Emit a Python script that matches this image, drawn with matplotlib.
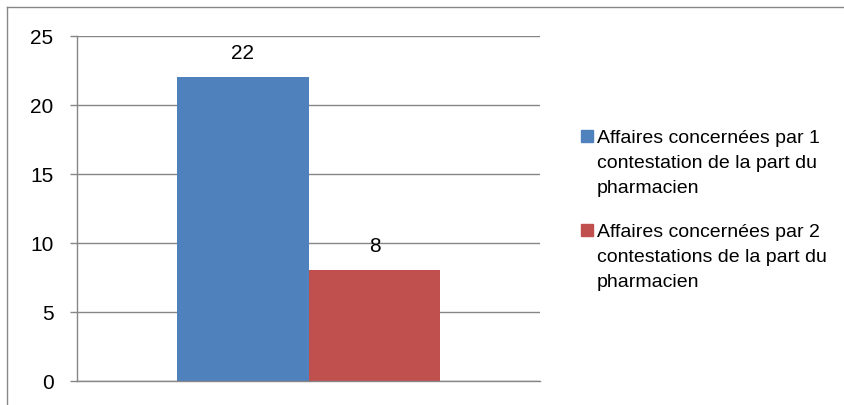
import matplotlib
matplotlib.use("Agg")
import matplotlib.pyplot as plt
from matplotlib.patches import Rectangle
from matplotlib.lines import Line2D

plt.rcParams['font.family'] = ['Liberation Sans', 'DejaVu Sans']

# data
series_labels = ["Affaires concernées par 1\ncontestation de la part du\npharmacien",
                 "Affaires concernées par 2\ncontestations de la part du\npharmacien"]
series_values = [22, 8]
series_colors = ["#4F81BD", "#C0504D"]
y_ticks = [0, 5, 10, 15, 20, 25]

W, H = 845, 406
fig = plt.figure(figsize=(W / 100, H / 100), dpi=100)

# outer chart border (top and left edges visible)
grey = "#888888"
fig.add_artist(Line2D([7 / W, 1], [1 - 7.5 / H, 1 - 7.5 / H], color=grey, lw=1.0, transform=fig.transFigure))
fig.add_artist(Line2D([7.5 / W, 7.5 / W], [0, 1 - 7.5 / H], color=grey, lw=1.0, transform=fig.transFigure))

ax = fig.add_axes([77 / W, (H - 381.5) / H, 463 / W, 344.5 / H])

bar_w = 0.285
offsets = [-bar_w / 2, bar_w / 2]
for off, val, col in zip(offsets, series_values, series_colors):
    ax.bar(off, val, width=bar_w, color=col, zorder=2)
    ax.annotate(str(val), (off, val), xytext=(0, 14), textcoords="offset points",
                ha="center", va="baseline", fontsize=15, zorder=3)

ax.set_xlim(-0.5, 0.5)
ax.set_ylim(0, 25)
ax.set_yticks(y_ticks)
ax.set_yticklabels([str(t) for t in y_ticks], fontsize=15)
ax.set_xticks([])
ax.yaxis.grid(True, color="#868686", lw=1.0, zorder=0)
ax.set_axisbelow(True)
ax.tick_params(axis="y", length=5, color="#868686", pad=12, width=1.0)
for s in ["top", "right"]:
    ax.spines[s].set_visible(False)
ax.spines["left"].set_color("#868686")
ax.spines["bottom"].set_color("#868686")
ax.spines["left"].set_linewidth(1.0)
ax.spines["bottom"].set_linewidth(1.0)

# legend drawn at right
first_baselines = [143, 237]
line_gap = 25
for base, label, col in zip(first_baselines, series_labels, series_colors):
    fig.add_artist(Rectangle((581 / W, 1 - base / H), 12 / W, 12.5 / H,
                             color=col, transform=fig.transFigure))
    for i, line in enumerate(label.split("\n")):
        fig.text(597 / W, 1 - (base + i * line_gap) / H, line,
                 fontsize=14, va="baseline", ha="left")

fig.savefig("out.png", dpi=100)
